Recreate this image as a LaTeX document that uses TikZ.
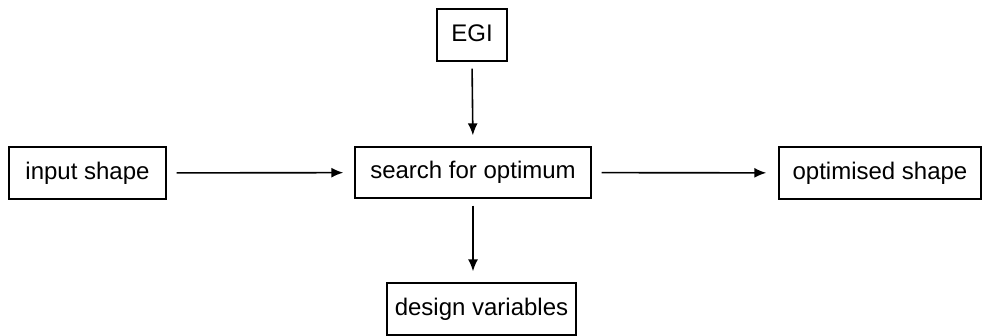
\documentclass[tikz,border=0pt]{standalone}
\usepackage{fontspec}
\setmainfont{Liberation Sans}
\usepackage{tikz}
\usetikzlibrary{positioning,arrows.meta}

\tikzset{
  box/.style={draw, line width=1.3pt, inner sep=0pt, minimum height=52pt,
    text height=17pt, text depth=4pt, font=\fontsize{24}{28}\selectfont},
  flow/.style={line width=1.6pt, -{Latex[length=12pt,width=10pt]},
    shorten <=7pt, shorten >=11pt}
}

\begin{document}
\begin{tikzpicture}[x=1pt, y=-1pt]
\useasboundingbox (0,0) rectangle (983,336);
% Boites
\node[box, minimum width=157pt] (input) at (87.5,173) {input shape};
\node[box, minimum width=236pt, minimum height=51pt] (search) at (473,172.5) {search for optimum};
\node[box, minimum width=70pt] (egi) at (472,35) {EGI};
\node[box, minimum width=202pt] (optim) at (880,173) {optimised shape};
\node[box, minimum width=189pt] (design) at (481.5,309) {design variables};
% Fleches
\draw[flow, shorten <=10pt] (input) -- (search);
\draw[flow, shorten <=10pt, shorten >=12pt] (search) -- (optim);
\draw[flow] (egi.south) -- (search.north);
\draw[flow] (search.south) -- (search.south |- design.north);
\end{tikzpicture}
\end{document}
